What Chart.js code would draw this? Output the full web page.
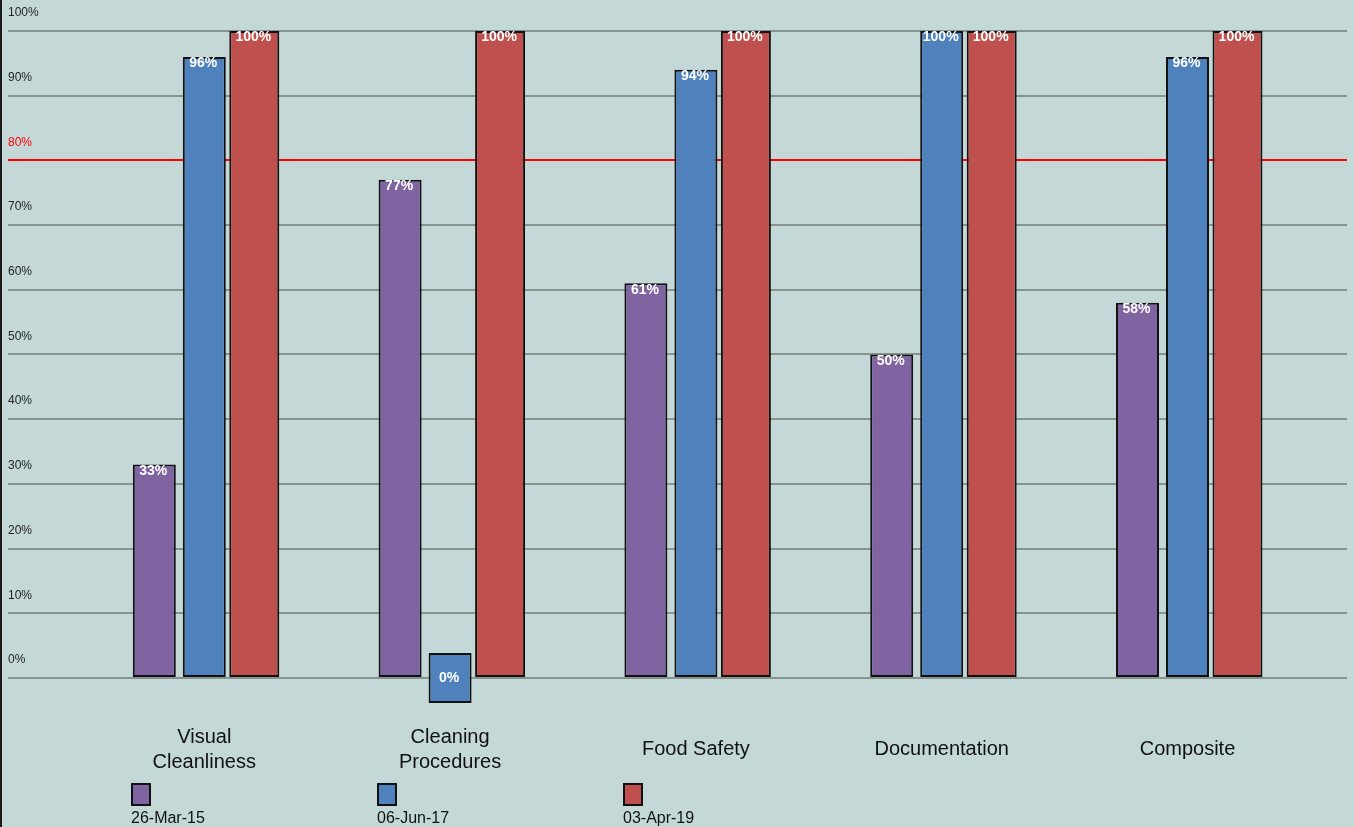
<!DOCTYPE html>
<html><head><meta charset="utf-8">
<script src="https://cdn.jsdelivr.net/npm/chart.js@4"></script>
<style>
html,body{margin:0;padding:0;background:#c4d9d7;overflow:hidden}
#wrap{position:relative;width:1354px;height:827px}
#edge{position:absolute;left:0;top:0;width:2px;height:827px;background:#1a1a1a}
</style></head><body>
<div id="wrap"><canvas id="c"></canvas><div id="edge"></div></div>
<script>
const categories = [['Visual','Cleanliness'],['Cleaning','Procedures'],'Food Safety','Documentation','Composite'];
const seriesNames = ['26-Mar-15','06-Jun-17','03-Apr-19'];
const series1 = [33,77,61,50,58];
const series2 = [96,0,94,100,96];
const series3 = [100,100,100,100,100];
const seriesColors = ['#8064A2','#4F81BD','#C0504D'];
const yTicks = [0,10,20,30,40,50,60,70,80,90,100];
const targetValue = 80;

const FONT = '"Liberation Sans", Arial, sans-serif';
const seriesValues = [series1, series2, series3];
const barPcts = [0.86, 0.86, 1.0];

const datasets = seriesValues.map((vals, s) => ({
  label: seriesNames[s],
  data: vals.map((v, i) => ({x: i + 1, y: v})),
  backgroundColor: seriesColors[s],
  borderColor: '#111',
  borderWidth: 2,
  borderSkipped: false,
  minBarLength: 50,
  categoryPercentage: 0.6102,
  barPercentage: barPcts[s]
}));

const valueLabels = {
  id: 'valueLabels',
  afterDatasetsDraw(chart) {
    const ctx = chart.ctx;
    ctx.save();
    ctx.font = 'bold 14px ' + FONT;
    ctx.fillStyle = '#ffffff';
    ctx.textAlign = 'center';
    ctx.textBaseline = 'middle';
    chart.data.datasets.forEach((ds, di) => {
      const meta = chart.getDatasetMeta(di);
      meta.data.forEach((bar, i) => {
        const v = ds.data[i].y;
        const top = Math.min(bar.y, bar.base);
        const y = v === 0 ? (bar.y + bar.base) / 2 : top + 6.5;
        ctx.fillText(v + '%', bar.x - 1, y);
      });
    });
    ctx.restore();
  }
};

const bottomLegend = {
  id: 'bottomLegend',
  afterDraw(chart) {
    const ctx = chart.ctx;
    const xs = chart.scales.x;
    ctx.save();
    chart.data.datasets.forEach((ds, i) => {
      const x0 = Math.round(xs.getPixelForValue(i + 1) - 73);
      const y0 = chart.height - 44;
      ctx.fillStyle = ds.backgroundColor;
      ctx.fillRect(x0, y0, 20, 23);
      ctx.strokeStyle = '#111';
      ctx.lineWidth = 2;
      ctx.strokeRect(x0 + 1, y0 + 1, 18, 21);
      ctx.fillStyle = '#111';
      ctx.font = '16px ' + FONT;
      ctx.textAlign = 'left';
      ctx.textBaseline = 'top';
      ctx.fillText(ds.label, x0, y0 + 28);
    });
    ctx.restore();
  }
};

new Chart(document.getElementById('c'), {
  type: 'bar',
  data: { datasets },
  plugins: [valueLabels, bottomLegend],
  options: {
    responsive: true,
    maintainAspectRatio: false,
    animation: false,
    devicePixelRatio: 1,
    layout: { padding: { left: 8, right: 7, top: 31, bottom: 53.8 } },
    plugins: { legend: { display: false }, tooltip: { enabled: false }, title: { display: false } },
    scales: {
      x: {
        type: 'linear', min: 0.2014, max: 5.6489, offset: false,
        grid: { display: false, drawTicks: false },
        border: { display: false },
        afterBuildTicks: s => { s.ticks = categories.map((c, i) => ({ value: i + 1 })); },
        afterFit: s => { s.height = 70; },
        ticks: {
          autoSkip: false, maxRotation: 0, minRotation: 0, padding: 34, crossAlign: 'center',
          color: '#111', font: { family: FONT, size: 20, lineHeight: 1.25 },
          callback: v => categories[v - 1]
        }
      },
      y: {
        min: -3.9, max: 100,
        grid: {
          color: c => (c.tick && c.tick.value === targetValue) ? '#ff0000' : '#86938f',
          lineWidth: 2, drawTicks: false
        },
        border: { display: false },
        afterBuildTicks: s => { s.ticks = yTicks.map(v => ({ value: v })); },
        afterFit: s => { s.width = 0; },
        ticks: {
          mirror: true, padding: 0, labelOffset: -18,
          color: c => (c.tick && c.tick.value === targetValue) ? '#ff0000' : '#222',
          font: { family: FONT, size: 12 },
          callback: v => v + '%'
        }
      }
    }
  }
});
</script>
</body></html>
